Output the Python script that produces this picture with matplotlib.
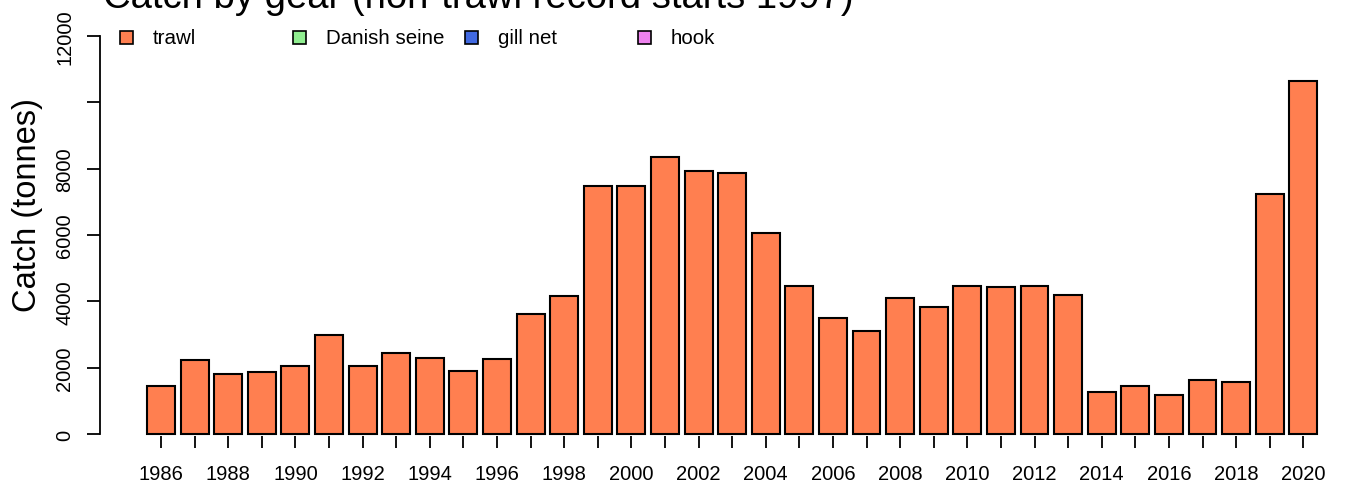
import matplotlib
matplotlib.use("Agg")
import matplotlib.pyplot as plt
from matplotlib.patches import Rectangle

years = list(range(1986, 2021))
trawl = [1440, 2240, 1820, 1860, 2050, 2985, 2050, 2440, 2290, 1900,
         2260, 3630, 4165, 7477, 7477, 8351, 7929, 7878, 6050, 4472,
         3497, 3096, 4100, 3829, 4457, 4432, 4452, 4200, 1266, 1457,
         1186, 1628, 1568, 7226, 10642]
legend_labels = ["trawl", "Danish seine", "gill net", "hook"]
legend_colors = ["#FF7F50", "#90EE90", "#4169E1", "#EE82EE"]
yticks = [0, 2000, 4000, 6000, 8000, 10000, 12000]
ytick_labels = ["0", "2000", "4000", "6000", "8000", "", "12000"]
title = "Catch by gear (non-trawl record starts 1997)"
ylabel = "Catch (tonnes)"

plt.rcParams['font.family'] = ['Liberation Sans', 'DejaVu Sans']

W, H = 1346, 489
fig = plt.figure(figsize=(W / 100, H / 100), dpi=100)

ax_left_px, ax_right_px = 100, 1346
ax_top_px, ax_bot_px = 21, 437
ax = fig.add_axes([ax_left_px / W, (H - ax_bot_px) / H,
                   (ax_right_px - ax_left_px) / W, (ax_bot_px - ax_top_px) / H])

x = list(range(len(years)))
ax.bar(x, trawl, width=0.83, color=legend_colors[0], edgecolor="black",
       linewidth=1.5)

ax.set_xlim(-1.815, 35.27)
ax.set_ylim(-60, 12480)

for s in ["top", "right", "bottom"]:
    ax.spines[s].set_visible(False)
ax.spines["left"].set_bounds(0, 12000)
ax.spines["left"].set_linewidth(1.3)

ax.set_yticks(yticks)
ax.set_yticklabels(ytick_labels, rotation=90, va="center")
ax.tick_params(axis="y", length=9.5, width=1.3, pad=9, labelsize=14.5)

ax.set_xticks(x)
ax.set_xticklabels([str(y) if (y - 1986) % 2 == 0 else "" for y in years])
ax.tick_params(axis="x", length=8.5, width=1.3, pad=12, labelsize=14.5)

fig.text(103 / W, 1 - 8 / H, title, ha="left", va="baseline", fontsize=27.5)
fig.text(28 / W, 1 - 205 / H, ylabel, rotation=90, ha="center", va="center",
         fontsize=23.5)

box_px = 13
for i, (lab, col) in enumerate(zip(legend_labels, legend_colors)):
    bx = 120 + i * 172.5
    by = 38
    fig.patches.append(Rectangle((bx / W, 1 - (by + box_px / 2) / H),
                                 box_px / W, box_px / H,
                                 transform=fig.transFigure, facecolor=col,
                                 edgecolor="black", linewidth=1.2))
    fig.text((bx + 33) / W, 1 - by / H, lab, ha="left", va="center",
             fontsize=14.8)

fig.savefig("out.png", dpi=100)
